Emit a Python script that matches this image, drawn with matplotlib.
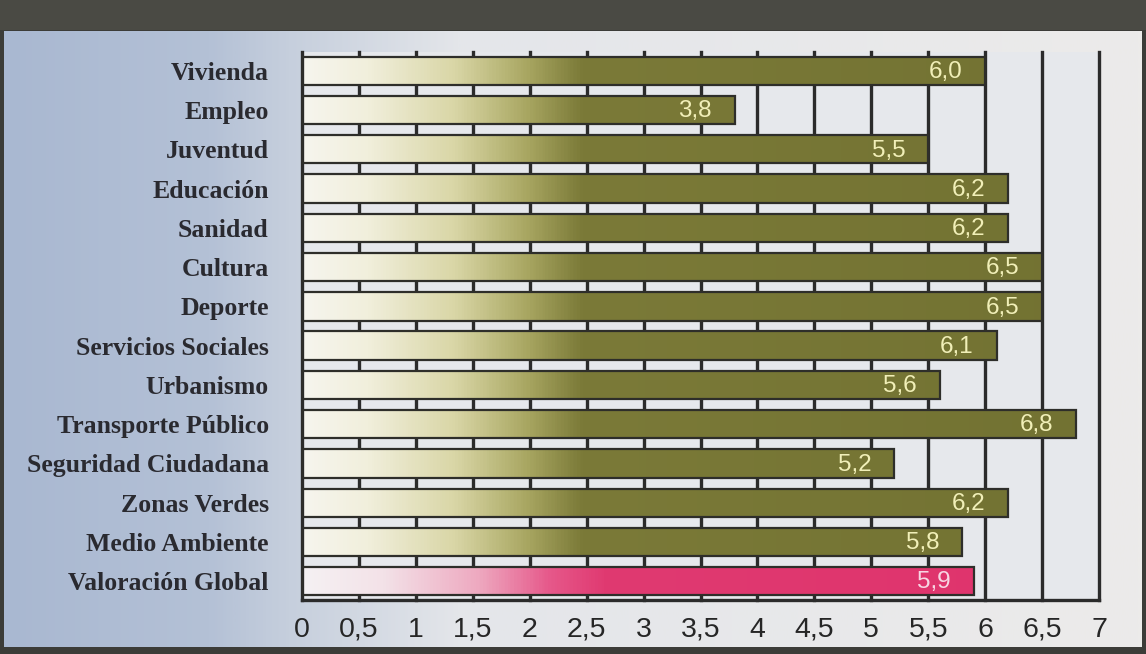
import numpy as np
import matplotlib.pyplot as plt
from matplotlib.colors import LinearSegmentedColormap
from matplotlib.patches import Rectangle

categorias = ['Vivienda', 'Empleo', 'Juventud', 'Educación', 'Sanidad', 'Cultura',
              'Deporte', 'Servicios Sociales', 'Urbanismo', 'Transporte Público',
              'Seguridad Ciudadana', 'Zonas Verdes', 'Medio Ambiente', 'Valoración Global']
valores = [6.0, 3.8, 5.5, 6.2, 6.2, 6.5, 6.5, 6.1, 5.6, 6.8, 5.2, 6.2, 5.8, 5.9]
ticks = [0, 0.5, 1, 1.5, 2, 2.5, 3, 3.5, 4, 4.5, 5, 5.5, 6, 6.5, 7]
tick_labels = ['0', '0,5', '1', '1,5', '2', '2,5', '3', '3,5', '4', '4,5', '5', '5,5', '6', '6,5', '7']

W, H = 1146, 654
fig = plt.figure(figsize=(W / 100, H / 100), dpi=100)
fig.patch.set_facecolor('#3c3c38')

# fondo con degradado azul -> gris claro
bg = fig.add_axes([4 / W, 7 / H, 1 - 8 / W, 1 - 38 / H])
xs = np.linspace(0, 1, 400)
bg_cmap = LinearSegmentedColormap.from_list(
    'bg', [(0, '#a9b8d1'), (0.18, '#b4c1d6'), (0.25, '#c6cfdd'), (0.4, '#e4e6ea'), (1, '#ecebea')])
bg.imshow(xs[None, :], aspect='auto', cmap=bg_cmap, extent=[0, 1, 0, 1])
bg.set_axis_off()
fig.patches.append(Rectangle((0, 1 - 30 / H), 1, 30 / H, transform=fig.transFigure,
                             facecolor='#4a4a44', edgecolor='none', zorder=5))

ax = fig.add_axes([302 / W, 1 - 600 / H, (1099 - 302) / W, 548 / H])
ax.set_facecolor('#e6e8ec')

for t in ticks[1:]:
    ax.axvline(t, color='#2b2b2b', lw=2.4, zorder=1, clip_on=False)

olive = LinearSegmentedColormap.from_list(
    'olive', [(0, '#f6f5ee'), (0.08, '#f1efdc'), (0.19, '#d9d6a6'), (0.28, '#a9a762'),
              (0.35, '#7b7a38'), (1, '#727232')])
pink = LinearSegmentedColormap.from_list(
    'pink', [(0, '#f5f1f3'), (0.1, '#f3e2e8'), (0.22, '#eea9c0'), (0.31, '#e6588a'),
             (0.38, '#e03a71'), (1, '#df336c')])
grad = np.linspace(0, 7, 700)[None, :]

h = 0.72
y = np.arange(len(categorias))
bars = ax.barh(y, valores, height=h, facecolor='none', edgecolor='#2e2e2a', lw=1.6, zorder=3)
for i, (bar, v) in enumerate(zip(bars, valores)):
    cmap = pink if i == len(valores) - 1 else olive
    im = ax.imshow(grad, extent=[0, 7, i + h / 2, i - h / 2], aspect='auto',
                   cmap=cmap, vmin=0, vmax=7, zorder=2)
    im.set_clip_path(bar)
    col = '#f7d6e3' if i == len(valores) - 1 else '#f1efb8'
    ax.text(v - 0.2, i + 0.03, f'{v:.1f}'.replace('.', ','), ha='right', va='center',
            fontsize=17.5, color=col, family='Liberation Sans', zorder=4)

ax.set_xlim(0, 7)
ax.set_ylim(13.48, -0.48)
ax.set_yticks(y)
ax.set_yticklabels(categorias, fontsize=18.5, fontweight='bold', color='#2a2a30',
                   family=['Liberation Serif', 'DejaVu Serif'])
ax.set_xticks(ticks)
ax.set_xticklabels(tick_labels, fontsize=20.5, color='#262626', family='Liberation Sans')
ax.tick_params(length=0)
ax.tick_params(axis='y', pad=24)
ax.tick_params(axis='x', pad=12)
for s in ['top', 'right']:
    ax.spines[s].set_visible(False)
for s in ['left', 'bottom']:
    ax.spines[s].set_linewidth(2.4)
    ax.spines[s].set_color('#2b2b2b')

plt.savefig('out.png', dpi=100, facecolor=fig.get_facecolor())
